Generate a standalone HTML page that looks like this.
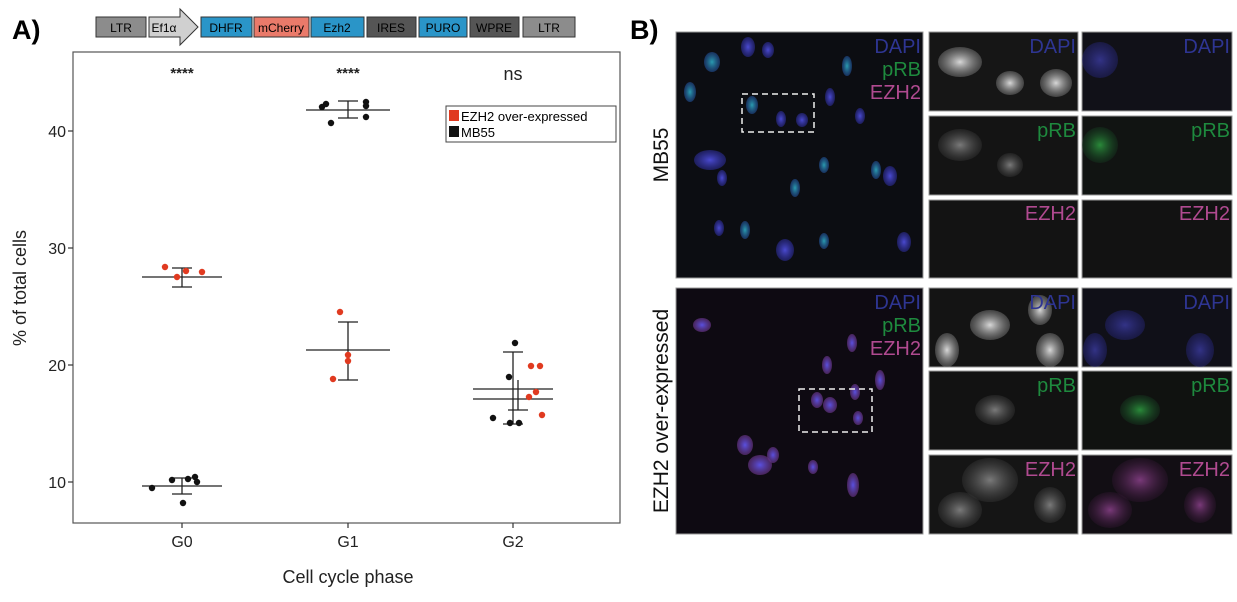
<!DOCTYPE html>
<html><head><meta charset="utf-8"><style>
body{margin:0;background:#fff;width:1237px;height:597px;overflow:hidden;font-family:"Liberation Sans",sans-serif}
</style></head><body>
<svg width="1237" height="597" xmlns="http://www.w3.org/2000/svg" font-family="Liberation Sans, sans-serif">
<defs>
<radialGradient id="nb"><stop offset="0" stop-color="#4a4ad0"/><stop offset="1" stop-color="#2a2a90" stop-opacity="0.6"/></radialGradient>
<radialGradient id="nc"><stop offset="0" stop-color="#2a9cb0"/><stop offset="1" stop-color="#204a90" stop-opacity="0.6"/></radialGradient>
<radialGradient id="ng"><stop offset="0" stop-color="#d8d8d8"/><stop offset="1" stop-color="#707070" stop-opacity="0.5"/></radialGradient>
<radialGradient id="ngd"><stop offset="0" stop-color="#7a7a7a"/><stop offset="1" stop-color="#303030" stop-opacity="0.5"/></radialGradient>
<radialGradient id="ngr"><stop offset="0" stop-color="#2a8a3a"/><stop offset="1" stop-color="#153a20" stop-opacity="0.4"/></radialGradient>
<radialGradient id="nm"><stop offset="0" stop-color="#7a3a7a"/><stop offset="1" stop-color="#301530" stop-opacity="0.4"/></radialGradient>
<radialGradient id="nbm"><stop offset="0" stop-color="#5a50e0"/><stop offset="1" stop-color="#60307a" stop-opacity="0.7"/></radialGradient>
</defs>
<text x="12" y="39" font-size="27" font-weight="bold">A)</text>
<text x="630" y="39" font-size="27" font-weight="bold">B)</text>
<!-- construct -->
<g stroke="#333" stroke-width="1" font-size="12" text-anchor="middle">
<rect x="96" y="17" width="50" height="20" fill="#8c8c8c"/><text x="121" y="32" stroke="none">LTR</text>
<polygon points="149,17 180,17 180,9 198,27 180,45 180,37 149,37" fill="#d0d0d0"/><text x="164" y="32" stroke="none">Ef1α</text>
<rect x="201" y="17" width="51" height="20" fill="#2a95c8"/><text x="226" y="32" stroke="none">DHFR</text>
<rect x="254" y="17" width="55" height="20" fill="#ea7a6a"/><text x="281" y="32" stroke="none">mCherry</text>
<rect x="311" y="17" width="53" height="20" fill="#2a95c8"/><text x="337" y="32" stroke="none">Ezh2</text>
<rect x="367" y="17" width="49" height="20" fill="#555"/><text x="391" y="32" stroke="none">IRES</text>
<rect x="419" y="17" width="48" height="20" fill="#2a95c8"/><text x="443" y="32" stroke="none">PURO</text>
<rect x="470" y="17" width="49" height="20" fill="#555"/><text x="494" y="32" stroke="none">WPRE</text>
<rect x="523" y="17" width="52" height="20" fill="#8c8c8c"/><text x="549" y="32" stroke="none">LTR</text>
</g>
<!-- plot -->
<rect x="73" y="52" width="547" height="471" fill="#fff" stroke="#555" stroke-width="1.2"/>
<g stroke="#333" stroke-width="1.2">
<line x1="68" y1="131" x2="73" y2="131"/><line x1="68" y1="248" x2="73" y2="248"/><line x1="68" y1="365" x2="73" y2="365"/><line x1="68" y1="482" x2="73" y2="482"/>
<line x1="182" y1="523" x2="182" y2="528"/><line x1="348" y1="523" x2="348" y2="528"/><line x1="513" y1="523" x2="513" y2="528"/>
</g>
<g font-size="16" fill="#222" text-anchor="end">
<text x="66" y="137">40</text><text x="66" y="254">30</text><text x="66" y="371">20</text><text x="66" y="488">10</text>
</g>
<g font-size="16" fill="#222" text-anchor="middle">
<text x="182" y="547">G0</text><text x="348" y="547">G1</text><text x="513" y="547">G2</text>
<text x="348" y="583" font-size="18">Cell cycle phase</text>
</g>
<text transform="translate(26,288) rotate(-90)" font-size="18" text-anchor="middle" fill="#222">% of total cells</text>
<g font-size="15" font-weight="bold" fill="#222" text-anchor="middle">
<text x="182" y="78">****</text><text x="348" y="78">****</text>
</g>
<text x="513" y="80" font-size="18" text-anchor="middle" fill="#222">ns</text>
<!-- legend -->
<rect x="446" y="106" width="170" height="36" fill="#fff" stroke="#444"/>
<rect x="449" y="110" width="10" height="11" fill="#e03a20"/><text x="461" y="121" font-size="13">EZH2 over-expressed</text>
<rect x="449" y="126" width="10" height="11" fill="#111"/><text x="461" y="137" font-size="13">MB55</text>
<!-- error bars -->
<g stroke="#222" stroke-width="1.3" fill="none">
<line x1="142" y1="277" x2="222" y2="277"/><line x1="182" y1="268" x2="182" y2="287"/><line x1="172" y1="268" x2="192" y2="268"/><line x1="172" y1="287" x2="192" y2="287"/>
<line x1="142" y1="486" x2="222" y2="486"/><line x1="182" y1="478" x2="182" y2="494"/><line x1="172" y1="478" x2="192" y2="478"/><line x1="172" y1="494" x2="192" y2="494"/>
<line x1="306" y1="110" x2="390" y2="110"/><line x1="348" y1="101" x2="348" y2="118"/><line x1="338" y1="101" x2="358" y2="101"/><line x1="338" y1="118" x2="358" y2="118"/>
<line x1="306" y1="350" x2="390" y2="350"/><line x1="348" y1="322" x2="348" y2="380"/><line x1="338" y1="322" x2="358" y2="322"/><line x1="338" y1="380" x2="358" y2="380"/>
<line x1="473" y1="389" x2="553" y2="389"/><line x1="473" y1="399" x2="553" y2="399"/>
<line x1="513" y1="352" x2="513" y2="424"/><line x1="503" y1="352" x2="523" y2="352"/><line x1="503" y1="424" x2="523" y2="424"/>
<line x1="518" y1="380" x2="518" y2="410"/><line x1="508" y1="410" x2="528" y2="410"/>
</g>
<g fill="#e03a20">
<circle cx="165" cy="267" r="3.2"/><circle cx="177" cy="277" r="3.2"/><circle cx="186" cy="271" r="3.2"/><circle cx="202" cy="272" r="3.2"/>
<circle cx="340" cy="312" r="3.2"/><circle cx="348" cy="355" r="3.2"/><circle cx="348" cy="361" r="3.2"/><circle cx="333" cy="379" r="3.2"/>
<circle cx="531" cy="366" r="3.2"/><circle cx="536" cy="392" r="3.2"/><circle cx="540" cy="366" r="3.2"/><circle cx="542" cy="415" r="3.2"/><circle cx="529" cy="397" r="3.2"/>
</g>
<g fill="#111">
<circle cx="152" cy="488" r="3.2"/><circle cx="172" cy="480" r="3.2"/><circle cx="183" cy="503" r="3.2"/><circle cx="188" cy="479" r="3.2"/><circle cx="195" cy="477" r="3.2"/><circle cx="197" cy="482" r="3.2"/>
<circle cx="322" cy="107" r="3.2"/><circle cx="326" cy="104" r="3.2"/><circle cx="331" cy="123" r="3.2"/><circle cx="366" cy="102" r="3.2"/><circle cx="366" cy="106" r="3.2"/><circle cx="366" cy="117" r="3.2"/>
<circle cx="493" cy="418" r="3.2"/><circle cx="515" cy="343" r="3.2"/><circle cx="519" cy="423" r="3.2"/><circle cx="510" cy="423" r="3.2"/><circle cx="509" cy="377" r="3.2"/>
</g>
<!-- B panels -->
<g stroke="#999" stroke-width="1">
<rect x="676" y="32" width="247" height="246" fill="#0c0d12"/>
<rect x="929" y="32" width="149" height="79" fill="#161616"/><rect x="1082" y="32" width="150" height="79" fill="#111118"/>
<rect x="929" y="116" width="149" height="79" fill="#141414"/><rect x="1082" y="116" width="150" height="79" fill="#111412"/>
<rect x="929" y="200" width="149" height="78" fill="#131313"/><rect x="1082" y="200" width="150" height="78" fill="#121212"/>
<rect x="676" y="288" width="247" height="246" fill="#0e0a12"/>
<rect x="929" y="288" width="149" height="79" fill="#141414"/><rect x="1082" y="288" width="150" height="79" fill="#101018"/>
<rect x="929" y="371" width="149" height="79" fill="#121212"/><rect x="1082" y="371" width="150" height="79" fill="#101210"/>
<rect x="929" y="455" width="149" height="79" fill="#151515"/><rect x="1082" y="455" width="150" height="79" fill="#120e14"/>
</g>
<g>
<ellipse cx="748" cy="47" rx="7" ry="10" fill="url(#nb)"/><ellipse cx="768" cy="50" rx="6" ry="8" fill="url(#nb)"/>
<ellipse cx="712" cy="62" rx="8" ry="10" fill="url(#nc)"/><ellipse cx="690" cy="92" rx="6" ry="10" fill="url(#nc)"/>
<ellipse cx="847" cy="66" rx="5" ry="10" fill="url(#nc)"/><ellipse cx="752" cy="105" rx="6" ry="9" fill="url(#nc)"/>
<ellipse cx="781" cy="119" rx="5" ry="8" fill="url(#nb)"/><ellipse cx="802" cy="120" rx="6" ry="7" fill="url(#nb)"/>
<ellipse cx="830" cy="97" rx="5" ry="9" fill="url(#nb)"/><ellipse cx="860" cy="116" rx="5" ry="8" fill="url(#nb)"/>
<ellipse cx="710" cy="160" rx="16" ry="10" fill="url(#nb)"/><ellipse cx="722" cy="178" rx="5" ry="8" fill="url(#nb)"/>
<ellipse cx="795" cy="188" rx="5" ry="9" fill="url(#nc)"/><ellipse cx="824" cy="165" rx="5" ry="8" fill="url(#nc)"/>
<ellipse cx="876" cy="170" rx="5" ry="9" fill="url(#nc)"/><ellipse cx="890" cy="176" rx="7" ry="10" fill="url(#nb)"/>
<ellipse cx="719" cy="228" rx="5" ry="8" fill="url(#nb)"/><ellipse cx="745" cy="230" rx="5" ry="9" fill="url(#nc)"/>
<ellipse cx="785" cy="250" rx="9" ry="11" fill="url(#nb)"/><ellipse cx="824" cy="241" rx="5" ry="8" fill="url(#nc)"/>
<ellipse cx="904" cy="242" rx="7" ry="10" fill="url(#nb)"/>
<rect x="742" y="94" width="72" height="38" fill="none" stroke="#eee" stroke-width="1.5" stroke-dasharray="6,4"/>
<ellipse cx="960" cy="62" rx="22" ry="15" fill="url(#ng)"/><ellipse cx="1010" cy="83" rx="14" ry="12" fill="url(#ng)"/><ellipse cx="1056" cy="83" rx="16" ry="14" fill="url(#ng)"/>
<ellipse cx="1100" cy="60" rx="18" ry="18" fill="url(#nb)" opacity="0.6"/><ellipse cx="960" cy="145" rx="22" ry="16" fill="url(#ngd)"/><ellipse cx="1010" cy="165" rx="13" ry="12" fill="url(#ngd)"/>
<ellipse cx="1100" cy="145" rx="18" ry="18" fill="url(#ngr)"/>
<ellipse cx="702" cy="325" rx="9" ry="7" fill="url(#nbm)"/><ellipse cx="852" cy="343" rx="5" ry="9" fill="url(#nbm)"/>
<ellipse cx="827" cy="365" rx="5" ry="9" fill="url(#nbm)"/><ellipse cx="880" cy="380" rx="5" ry="10" fill="url(#nbm)"/>
<ellipse cx="817" cy="400" rx="6" ry="8" fill="url(#nbm)"/><ellipse cx="830" cy="405" rx="7" ry="8" fill="url(#nbm)"/><ellipse cx="855" cy="392" rx="5" ry="8" fill="url(#nbm)"/><ellipse cx="858" cy="418" rx="5" ry="7" fill="url(#nbm)"/>
<ellipse cx="745" cy="445" rx="8" ry="10" fill="url(#nbm)"/><ellipse cx="760" cy="465" rx="12" ry="10" fill="url(#nbm)"/><ellipse cx="773" cy="455" rx="6" ry="8" fill="url(#nbm)"/>
<ellipse cx="813" cy="467" rx="5" ry="7" fill="url(#nbm)"/><ellipse cx="853" cy="485" rx="6" ry="12" fill="url(#nbm)"/>
<rect x="799" y="389" width="73" height="43" fill="none" stroke="#eee" stroke-width="1.5" stroke-dasharray="6,4"/>
<ellipse cx="990" cy="325" rx="20" ry="15" fill="url(#ng)"/><ellipse cx="1040" cy="310" rx="12" ry="15" fill="url(#ng)"/><ellipse cx="947" cy="350" rx="12" ry="17" fill="url(#ng)"/><ellipse cx="1050" cy="350" rx="14" ry="17" fill="url(#ng)"/>
<ellipse cx="1125" cy="325" rx="20" ry="15" fill="url(#nb)" opacity="0.6"/><ellipse cx="1095" cy="350" rx="12" ry="17" fill="url(#nb)" opacity="0.6"/><ellipse cx="1200" cy="350" rx="14" ry="17" fill="url(#nb)" opacity="0.6"/>
<ellipse cx="995" cy="410" rx="20" ry="15" fill="url(#ngd)"/><ellipse cx="1140" cy="410" rx="20" ry="15" fill="url(#ngr)"/>
<ellipse cx="990" cy="480" rx="28" ry="22" fill="url(#ngd)"/><ellipse cx="960" cy="510" rx="22" ry="18" fill="url(#ngd)"/><ellipse cx="1050" cy="505" rx="16" ry="18" fill="url(#ngd)"/>
<ellipse cx="1140" cy="480" rx="28" ry="22" fill="url(#nm)"/><ellipse cx="1110" cy="510" rx="22" ry="18" fill="url(#nm)"/><ellipse cx="1200" cy="505" rx="16" ry="18" fill="url(#nm)"/>
</g>
<g font-size="20" text-anchor="end">
<text x="921" y="53" fill="#2e3592">DAPI</text><text x="921" y="76" fill="#1e8a3e">pRB</text><text x="921" y="99" fill="#b04a90">EZH2</text>
<text x="1076" y="53" fill="#2e3592">DAPI</text><text x="1230" y="53" fill="#2e3592">DAPI</text>
<text x="1076" y="137" fill="#1e8a3e">pRB</text><text x="1230" y="137" fill="#1e8a3e">pRB</text>
<text x="1076" y="220" fill="#b04a90">EZH2</text><text x="1230" y="220" fill="#b04a90">EZH2</text>
<text x="921" y="309" fill="#2e3592">DAPI</text><text x="921" y="332" fill="#1e8a3e">pRB</text><text x="921" y="355" fill="#b04a90">EZH2</text>
<text x="1076" y="309" fill="#2e3592">DAPI</text><text x="1230" y="309" fill="#2e3592">DAPI</text>
<text x="1076" y="392" fill="#1e8a3e">pRB</text><text x="1230" y="392" fill="#1e8a3e">pRB</text>
<text x="1076" y="476" fill="#b04a90">EZH2</text><text x="1230" y="476" fill="#b04a90">EZH2</text>
</g>
<text transform="translate(668,155) rotate(-90)" font-size="21" text-anchor="middle" fill="#111">MB55</text>
<text transform="translate(668,411) rotate(-90)" font-size="21" text-anchor="middle" fill="#111">EZH2 over-expressed</text>
</svg>
</body></html>
